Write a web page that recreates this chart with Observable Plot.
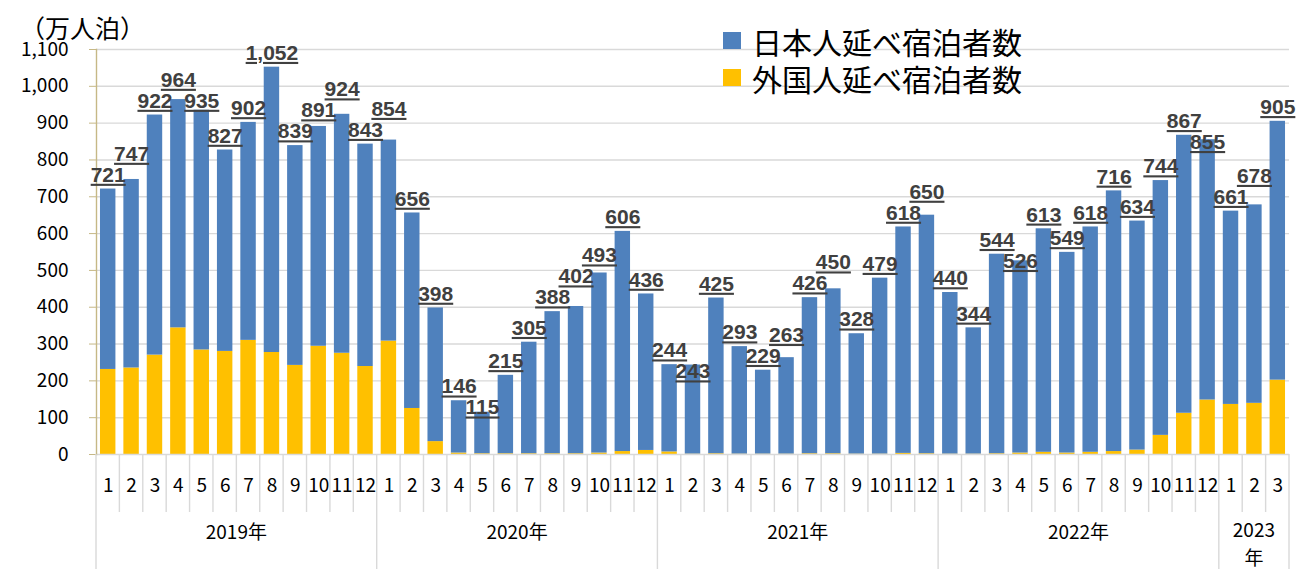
<!DOCTYPE html>
<html><head><meta charset="utf-8">
<script src="https://cdn.jsdelivr.net/npm/d3@7"></script>
<script src="https://cdn.jsdelivr.net/npm/@observablehq/plot@0.6"></script>
<style>
body{margin:0;background:#fff;}
#wrap{position:relative;width:1300px;height:569px;overflow:hidden;font-family:'Noto Sans CJK JP',sans-serif;}
#ytitle{position:absolute;left:20px;top:13px;font-size:25px;line-height:28px;color:#000;}
#legend{position:absolute;left:723px;top:22px;font-size:30px;color:#000;}
#legend .row{display:flex;align-items:center;height:37px;line-height:34px;}
#legend .sw{width:18px;height:17px;margin-right:11px;}
</style></head><body><div id="wrap"></div>
<script>
const years = [2019, 2020, 2021, 2022, 2023];
const monthsInYear = [12, 12, 12, 12, 3];
const totalStays = [721,747,922,964,935,827,902,1052,839,891,924,843,
  854,656,398,146,115,215,305,388,402,493,606,436,
  244,243,425,293,229,263,426,450,328,479,618,650,
  440,344,544,526,613,549,618,716,634,744,867,855,
  661,678,905];
const foreignStays = [231,235,270,344,284,280,310,277,242,294,275,239,
  308,125,35,4,2,2,2,2,2,4,8,11,
  7,1,2,1,1,1,2,2,1,1,3,2,
  1,1,2,4,6,4,6,8,12,52,112,148,
  136,139,202];
const seriesNames = ["日本人延べ宿泊者数", "外国人延べ宿泊者数"];
const seriesColors = ["#4F81BD", "#FFC000"];
const yTickValues = [0,100,200,300,400,500,600,700,800,900,1000,1100];
const yTitle = "（万人泊）";

const periods = years.flatMap((y, yi) => d3.range(1, monthsInYear[yi] + 1).map(m => ({year: y, month: m, key: `${y}-${m}`})));
periods.forEach((p, i) => { p.total = totalStays[i]; p.foreign = foreignStays[i]; });
const rows = [
  ...periods.map(p => ({key: p.key, series: seriesNames[1], value: p.foreign})),
  ...periods.map(p => ({key: p.key, series: seriesNames[0], value: p.total - p.foreign}))
];

// simple label dodge (in value units): keep neighbouring labels from sitting on one line
const lift = 38, gap = 57;
periods.forEach((p, i) => {
  let ly = p.total + lift;
  if (i > 0) {
    const prev = periods[i - 1];
    if (Math.abs(ly - prev.labelY) < gap) {
      ly = p.total >= prev.total ? prev.labelY + gap : prev.labelY - gap;
    }
  }
  p.labelY = ly;
});

const axisColor = "#c6b886";
const gridColor = "#d9d9d9";
const chart = Plot.plot({
  width: 1300, height: 569,
  marginTop: 49, marginBottom: 115, marginLeft: 96, marginRight: 11,
  style: {background: "transparent", fontFamily: "'Noto Sans CJK JP', sans-serif", overflow: "visible"},
  x: {domain: periods.map(p => p.key), paddingInner: 0.34, paddingOuter: 0.17, round: false, label: null},
  y: {domain: [0, 1100], label: null, clamp: false},
  color: {domain: seriesNames, range: seriesColors},
  marks: [
    Plot.ruleY(yTickValues.slice(1), {stroke: gridColor, strokeWidth: 1.4}),
    Plot.barY(rows, {x: "key", y: "value", fill: "series"}),
    Plot.ruleY([0], {stroke: gridColor, strokeWidth: 1.4}),
    Plot.frame({anchor: "left", stroke: axisColor, strokeWidth: 1.4}),
    Plot.axisY({ticks: yTickValues, tickSize: 7, tickPadding: 21, tickFormat: d3.format(","), fontSize: 19, stroke: axisColor, fill: "#000", label: null}),
    Plot.axisX({tickSize: 0, tickPadding: 24, tickFormat: k => k.split("-")[1], fontSize: 19, fill: "#000", label: null}),
    Plot.text(periods, {x: "key", y: "labelY", text: d => d3.format(",")(d.total), lineAnchor: "middle",
      fontSize: 21, fontWeight: "bold", fill: "#404040", fontFamily: "'Liberation Sans', sans-serif"})
  ]
});

const svg = d3.select(chart);
svg.selectAll('g[aria-label="text"] text').style("text-decoration", "underline");

// category bracket below the axis
const xs = chart.scale("x");
const ys = chart.scale("y");
const step = xs.step, bw = xs.bandwidth;
const leftEdge = k => xs.apply(k) - (step - bw) / 2;
const y0 = ys.apply(0);
const g = svg.append("g").attr("stroke", gridColor).attr("stroke-width", 1.4);
periods.forEach(p => {
  const x0 = leftEdge(p.key);
  g.append("line").attr("x1", x0).attr("x2", x0).attr("y1", y0).attr("y2", p.month === 1 ? 569 : y0 + 58);
});
const lastX = leftEdge(periods[periods.length - 1].key) + step;
g.append("line").attr("x1", lastX).attr("x2", lastX).attr("y1", y0).attr("y2", 569);

const yl = svg.append("g").attr("font-size", 19).attr("text-anchor", "middle").attr("fill", "#000");
years.forEach((y, yi) => {
  const ps = periods.filter(p => p.year === y);
  const cx = (leftEdge(ps[0].key) + leftEdge(ps[ps.length - 1].key) + step) / 2;
  if (ps.length < 4) {
    yl.append("text").attr("x", cx).attr("y", y0 + 76).attr("dy", "0.35em").text(`${y}`);
    yl.append("text").attr("x", cx).attr("y", y0 + 104).attr("dy", "0.35em").text("年");
  } else {
    yl.append("text").attr("x", cx).attr("y", y0 + 78).attr("dy", "0.35em").text(`${y}年`);
  }
});

const wrap = document.getElementById("wrap");
wrap.appendChild(chart);
const t = document.createElement("div");
t.id = "ytitle"; t.textContent = yTitle; wrap.appendChild(t);
const lg = document.createElement("div");
lg.id = "legend";
seriesNames.forEach((s, i) => {
  const r = document.createElement("div"); r.className = "row";
  const sw = document.createElement("span"); sw.className = "sw"; sw.style.background = seriesColors[i];
  const tx = document.createElement("span"); tx.textContent = s;
  r.appendChild(sw); r.appendChild(tx); lg.appendChild(r);
});
wrap.appendChild(lg);
</script></body></html>
